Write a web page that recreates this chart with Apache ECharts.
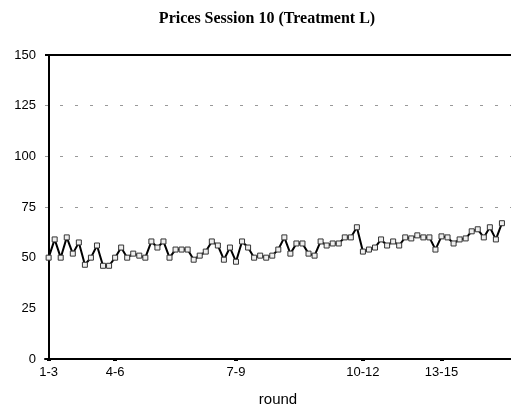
<!DOCTYPE html>
<html>
<head>
<meta charset="utf-8">
<script src="https://cdn.jsdelivr.net/npm/echarts@6/dist/echarts.min.js"></script>
<style>
  html, body { margin: 0; padding: 0; background: #fff; }
  #chart { width: 511px; height: 412px; }
</style>
</head>
<body>
<div id="chart"></div>
<script>
// Trade prices for session 10, in trading order
const prices = [
  50, 59, 50, 60, 52, 57.5, 46.5, 50, 56, 46,
  46, 50, 55, 50, 52, 51, 50, 58, 55, 58,
  50, 54, 54, 54, 49, 51, 53, 58, 56, 49,
  55, 48, 58, 55, 50, 51, 50, 51, 54, 60,
  52, 57, 57, 52, 51, 58, 56, 57, 57, 60,
  60, 65, 53, 54, 55, 59, 56, 58, 56, 60,
  59.5, 61, 60, 60, 54, 60.5, 60, 57, 59, 59.5,
  63, 64, 60, 65, 59, 67
];

// Trade index where each group of rounds starts, and its label
const roundStarts = [0, 11, 31, 52, 65];
const roundLabels = ['1-3', '4-6', '7-9', '10-12', '13-15'];

// Dashed reference levels
const guideLevels = [75, 100, 125];

const yTicks = [0, 25, 50, 75, 100, 125, 150];

const chart = echarts.init(document.getElementById('chart'));
const font = '"Liberation Sans", Arial, sans-serif';

chart.setOption({
  animation: false,
  backgroundColor: '#fff',
  title: {
    text: 'Prices Session 10 (Treatment L)',
    left: 262,
    textAlign: 'center',
    top: 6,
    textStyle: {
      fontFamily: '"Liberation Serif", "Times New Roman", serif',
      fontWeight: 'bold',
      fontSize: 16,
      color: '#000'
    }
  },
  grid: { left: 45, right: -8, top: 55, bottom: 47, containLabel: false },
  xAxis: {
    type: 'value',
    min: -0.6,
    max: 76.5,
    name: 'round',
    nameLocation: 'middle',
    nameGap: 33,
    nameTextStyle: { fontFamily: font, fontSize: 15, color: '#000' },
    axisLine: { show: true, lineStyle: { color: '#000', width: 2 } },
    axisTick: {
      show: true,
      customValues: roundStarts,
      length: 2,
      lineStyle: { color: '#000', width: 4 }
    },
    axisLabel: {
      customValues: roundStarts,
      formatter: v => roundLabels[roundStarts.indexOf(v)] || '',
      fontFamily: font,
      fontSize: 13,
      color: '#000',
      margin: 7
    },
    splitLine: { show: false }
  },
  yAxis: {
    type: 'value',
    min: 0,
    max: 150,
    interval: 25,
    axisLine: { show: true, lineStyle: { color: '#000', width: 2 } },
    axisTick: { show: false },
    axisLabel: {
      fontFamily: font,
      fontSize: 13,
      color: '#000',
      margin: 9,
      customValues: yTicks
    },
    splitLine: { show: false }
  },
  series: [
    {
      type: 'line',
      data: prices.map((p, i) => [i, p]),
      symbol: 'rect',
      symbolSize: 5,
      showAllSymbol: true,
      lineStyle: { color: '#000', width: 2 },
      itemStyle: { color: '#eee', borderColor: '#333', borderWidth: 1 },
      z: 3,
      markLine: {
        silent: true,
        symbol: 'none',
        label: { show: false },
        lineStyle: { color: '#999', type: [3, 12], width: 1 },
        data: guideLevels.map(v => ({ yAxis: v }))
      }
    },
    {
      // top frame line at the axis maximum
      type: 'line',
      data: [],
      markLine: {
        silent: true,
        symbol: 'none',
        label: { show: false },
        lineStyle: { color: '#000', type: 'solid', width: 2 },
        data: [{ yAxis: 150 }]
      }
    }
  ]
});
</script>
</body>
</html>
